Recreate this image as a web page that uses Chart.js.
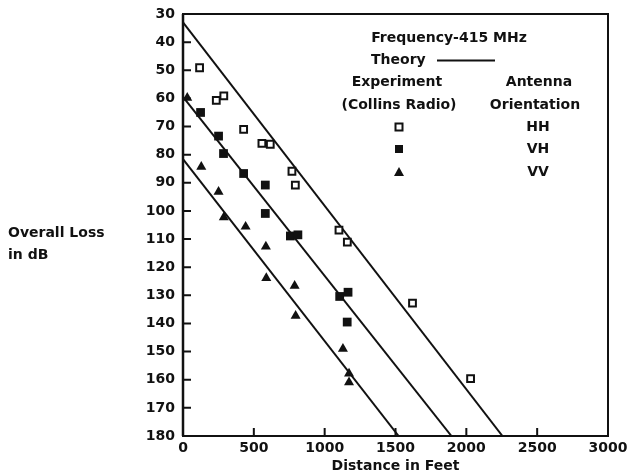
<!DOCTYPE html>
<html>
<head>
<meta charset="utf-8">
<script src="https://cdn.jsdelivr.net/npm/chart.js@4.4.1/dist/chart.umd.min.js"></script>
<style>
  html, body { margin: 0; padding: 0; background: #fff; }
  #wrap { width: 628px; height: 475px; position: relative; }
</style>
</head>
<body>
<div id="wrap"><canvas id="chart"></canvas></div>
<script>
// measured points: distance in feet, overall loss in dB
const hhDistance = [117, 235, 288, 428, 557, 616, 769, 793, 1101, 1160, 1620, 2030];
const hhLoss     = [49.1, 60.7, 59.1, 71.0, 76.0, 76.3, 85.9, 90.8, 106.8, 111.1, 132.8, 159.6];

const vhDistance = [124, 251, 286, 428, 581, 581, 758, 811, 1106, 1165, 1159];
const vhLoss     = [65.0, 73.4, 79.6, 86.7, 90.8, 100.9, 108.9, 108.5, 130.4, 128.9, 139.5];

const vvDistance = [30, 129, 251, 288, 442, 585, 588, 788, 795, 1129, 1172, 1172];
const vvLoss     = [59.8, 84.3, 93.2, 102.3, 105.6, 112.7, 123.9, 126.6, 137.3, 149.0, 157.8, 160.9];

// theory lines (end points)
const hhTheoryDistance = [0, 2255];
const hhTheoryLoss     = [33, 180];
const vhTheoryDistance = [0, 1895];
const vhTheoryLoss     = [59.5, 180];
const vvTheoryDistance = [0, 1522];
const vvTheoryLoss     = [81.6, 180];

const xTicks = [0, 500, 1000, 1500, 2000, 2500, 3000];
const yTicks = [30, 40, 50, 60, 70, 80, 90, 100, 110, 120, 130, 140, 150, 160, 170, 180];

const orientations = ['HH', 'VH', 'VV'];

const ink = '#111';
const fontFamily = '"DejaVu Sans", sans-serif';
const textFont = 'bold 14px ' + fontFamily;

function toPoints(xs, ys) {
    return xs.map((v, i) => ({ x: v, y: ys[i] }));
}

function theoryLine(xs, ys) {
    return {
        data: toPoints(xs, ys),
        showLine: true,
        borderColor: ink,
        borderWidth: 2,
        pointRadius: 0
    };
}

function drawSymbol(ctx, kind, x, y) {
    ctx.beginPath();
    if (kind === 'HH') {
        ctx.lineWidth = 2;
        ctx.strokeRect(x - 3.5, y - 3.5, 7, 7);
    } else if (kind === 'VH') {
        ctx.fillRect(x - 4, y - 4, 8, 8);
    } else {
        ctx.moveTo(x, y - 5);
        ctx.lineTo(x + 5, y + 4);
        ctx.lineTo(x - 5, y + 4);
        ctx.closePath();
        ctx.fill();
    }
}

const decorations = {
    id: 'decorations',
    afterDatasetsDraw(chart) {
        const { ctx, chartArea: a, scales: { x, y } } = chart;
        ctx.save();
        ctx.strokeStyle = ink;
        ctx.fillStyle = ink;

        // frame
        ctx.lineWidth = 2;
        ctx.strokeRect(a.left, a.top, a.right - a.left, a.bottom - a.top);
        ctx.lineWidth = 2.5;
        ctx.beginPath();
        ctx.moveTo(a.left, a.top);
        ctx.lineTo(a.left, a.bottom);
        ctx.stroke();

        // tick marks pointing inward
        ctx.lineWidth = 2;
        ctx.beginPath();
        yTicks.forEach((v) => {
            const py = y.getPixelForValue(v);
            ctx.moveTo(a.left, py);
            ctx.lineTo(a.left + 8, py);
        });
        xTicks.forEach((v) => {
            const px = x.getPixelForValue(v);
            ctx.moveTo(px, a.bottom);
            ctx.lineTo(px, a.bottom - 8);
        });
        ctx.stroke();

        // side label
        ctx.font = textFont;
        ctx.textBaseline = 'middle';
        ctx.textAlign = 'left';
        ctx.fillText('Overall Loss', 8, 233);
        ctx.fillText('in dB', 8, 255);

        // key block
        ctx.textAlign = 'center';
        ctx.fillText('Frequency-415 MHz', 449, 38);
        ctx.textAlign = 'left';
        ctx.fillText('Theory', 371, 60);
        ctx.beginPath();
        ctx.moveTo(437, 60.5);
        ctx.lineTo(495, 60.5);
        ctx.stroke();
        ctx.textAlign = 'center';
        ctx.fillText('Experiment', 397, 82);
        ctx.fillText('(Collins Radio)', 399, 105);
        ctx.fillText('Antenna', 539, 82);
        ctx.fillText('Orientation', 535, 105);
        const rows = [127, 149, 172];
        orientations.forEach((name, i) => {
            ctx.fillText(name, 538, rows[i]);
            drawSymbol(ctx, name, 399, rows[i]);
        });
        ctx.restore();
    }
};

const config = {
    type: 'scatter',
    data: {
        datasets: [
            {
                label: 'HH',
                data: toPoints(hhDistance, hhLoss),
                pointStyle: 'rect',
                pointRadius: 4.8,
                backgroundColor: '#fff',
                borderColor: ink,
                borderWidth: 2
            },
            {
                label: 'VH',
                data: toPoints(vhDistance, vhLoss),
                pointStyle: 'rect',
                pointRadius: 6.2,
                backgroundColor: ink,
                borderColor: ink,
                borderWidth: 0
            },
            {
                label: 'VV',
                data: toPoints(vvDistance, vvLoss),
                pointStyle: 'triangle',
                pointRadius: 5.8,
                backgroundColor: ink,
                borderColor: ink,
                borderWidth: 0
            },
            theoryLine(hhTheoryDistance, hhTheoryLoss),
            theoryLine(vhTheoryDistance, vhTheoryLoss),
            theoryLine(vvTheoryDistance, vvTheoryLoss)
        ]
    },
    options: {
        responsive: true,
        maintainAspectRatio: false,
        animation: false,
        layout: { autoPadding: false, padding: { top: 14, right: 20, left: 0, bottom: 0 } },
        plugins: { legend: { display: false }, tooltip: { enabled: false } },
        scales: {
            x: {
                type: 'linear',
                min: 0,
                max: 3000,
                afterBuildTicks: (s) => { s.ticks = xTicks.map((v) => ({ value: v })); },
                afterFit: (s) => {
                    s.height = 39;
                    s.paddingLeft = 0;
                    s.paddingRight = 0;
                },
                grid: { display: false, drawTicks: false },
                border: { display: false },
                ticks: {
                    color: ink,
                    padding: 4,
                    maxRotation: 0,
                    autoSkip: false,
                    callback: (v) => String(v),
                    font: { family: fontFamily, size: 14, weight: 'bold' }
                },
                title: {
                    display: true,
                    text: 'Distance in Feet',
                    color: ink,
                    padding: { top: 0, bottom: 0 },
                    font: { family: fontFamily, size: 14, weight: 'bold' }
                }
            },
            y: {
                type: 'linear',
                reverse: true,
                min: 30,
                max: 180,
                afterBuildTicks: (s) => { s.ticks = yTicks.map((v) => ({ value: v })); },
                afterFit: (s) => {
                    s.width = 183;
                    s.paddingTop = 0;
                    s.paddingBottom = 0;
                },
                grid: { display: false, drawTicks: false },
                border: { display: false },
                ticks: {
                    color: ink,
                    padding: 8,
                    autoSkip: false,
                    callback: (v) => String(v),
                    font: { family: fontFamily, size: 14, weight: 'bold' }
                }
            }
        }
    },
    plugins: [decorations]
};

const chart = new Chart(document.getElementById('chart'), config);
</script>
</body>
</html>
